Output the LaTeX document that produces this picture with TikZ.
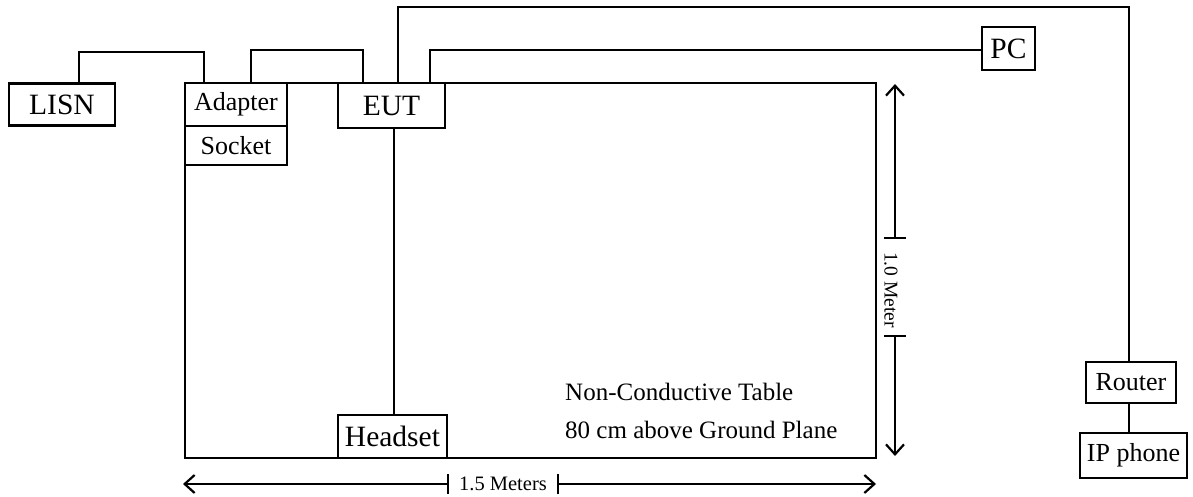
\documentclass[tikz,border=0pt]{standalone}
\usepackage{fontspec}
\setmainfont{Liberation Serif}
\usetikzlibrary{arrows.meta}
\begin{document}
\begin{tikzpicture}[x=1pt,y=-1pt,
  box/.style={draw, line width=2.8pt, fill=white, inner sep=0pt, anchor=center},
  big/.style={font=\fontsize{29.5}{31}\selectfont},
  mid/.style={font=\fontsize{26}{28}\selectfont},
  wire/.style={line width=1.5pt},
  dim/.style={line width=2.2pt, -{Straight Barb[length=10pt,width=18pt,line width=2.2pt]}},
  tick/.style={line width=2.2pt},
  lbl/.style={inner sep=0pt, anchor=base west, font=\fontsize{25}{27}\selectfont}]
\useasboundingbox (0,0) rectangle (1193,497);
% table
\node[draw, line width=2.8pt, minimum width=691pt, minimum height=375pt, inner sep=0pt] (table) at (530.5,270.5) {};
% boxes
\node[box, big, minimum width=106pt, minimum height=42pt] (lisn) at (62,104.5) {LISN};
\node[box, mid, minimum width=102pt, minimum height=43pt] (adapter) at (236,104.5) {Adapter};
\node[box, mid, minimum width=102pt, minimum height=39pt] (socket) at (236,145.5) {Socket};
\node[box, big, minimum width=107pt, minimum height=45pt] (eut) at (391.5,105.5) {EUT};
\node[box, big, minimum width=109pt, minimum height=43pt] (headset) at (392.5,436.5) {Headset};
\node[box, big, minimum width=53pt, minimum height=43pt] (pc) at (1008.5,48.5) {PC};
\node[box, mid, minimum width=90pt, minimum height=41pt] (router) at (1131,382.5) {Router};
\node[box, mid, minimum width=107pt, minimum height=45pt] (ipphone) at (1133.5,455.5) {IP phone};
% wires
\draw[wire] (lisn.north -| 79,0) -- (79,52) -- (204,52) -- (adapter.north -| 204,0);
\draw[wire] (adapter.north -| 251,0) -- (251,50) -- (363,50) -- (eut.north -| 363,0);
\draw[wire] (eut.north -| 398,0) -- (398,7) -- (1129,7) -- (router.north -| 1129,0);
\draw[wire] (eut.north -| 430,0) -- (430,50) -- (pc.west |- 0,50);
\draw[wire] (eut.south -| 394,0) -- (headset.north -| 394,0);
\draw[wire] (router.south -| 1129,0) -- (ipphone.north -| 1129,0);
% table text
\node[lbl] (t1) at (565,400) {Non-Conductive Table};
\node[lbl] (t2) at (565,438) {80 cm above Ground Plane};
% vertical dimension
\coordinate (vtop) at (895,84);
\coordinate (vbot) at (895,456);
\coordinate (vt1) at (895,238);
\coordinate (vt2) at (895,336);
\node[font=\fontsize{19.5}{21}\selectfont, rotate=-90, inner sep=0pt] (vlab) at (891,290) {1.0 Meter};
\draw[dim] (vt1) -- (vtop);
\draw[dim] (vt2) -- (vbot);
\draw[tick] ([xshift=-11pt]vt1) -- ([xshift=11pt]vt1);
\draw[tick] ([xshift=-11pt]vt2) -- ([xshift=11pt]vt2);
% horizontal dimension
\coordinate (hl) at (183,484);
\coordinate (hr) at (876,484);
\coordinate (ht1) at (448,484);
\coordinate (ht2) at (558,484);
\node[font=\fontsize{20.5}{22}\selectfont, inner sep=0pt] (hlab) at (503,484) {1.5 Meters};
\draw[dim] (ht1) -- (hl);
\draw[dim] (ht2) -- (hr);
\draw[tick] ([yshift=-10pt]ht1) -- ([yshift=10pt]ht1);
\draw[tick] ([yshift=-10pt]ht2) -- ([yshift=10pt]ht2);
\end{tikzpicture}
\end{document}
